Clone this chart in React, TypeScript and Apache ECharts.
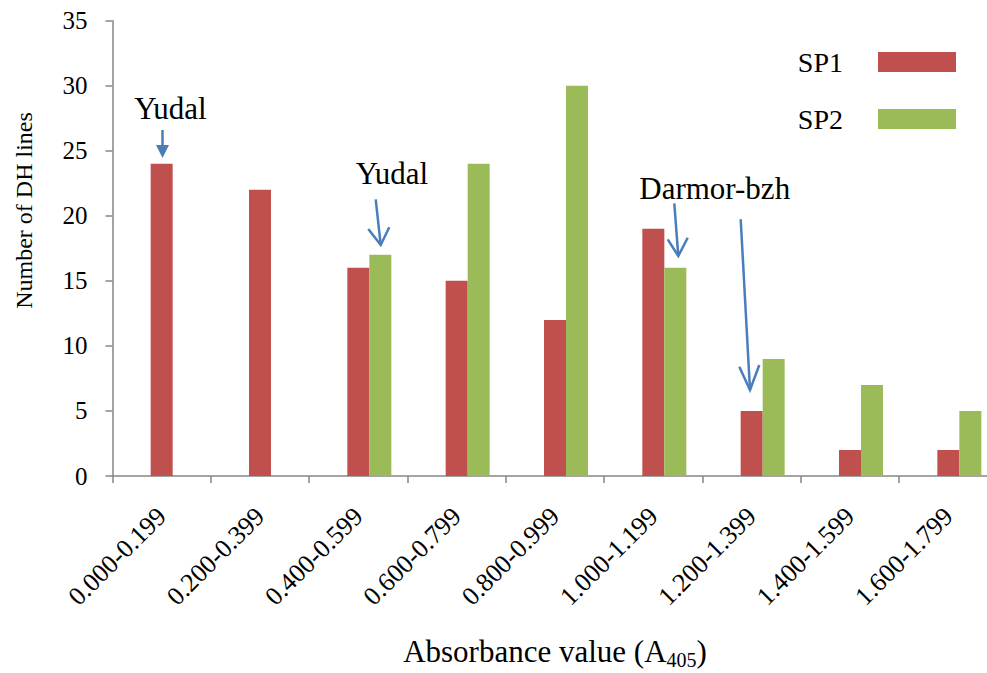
import React, { useEffect, useRef } from 'react';
import * as echarts from 'echarts';

const categories = [
  '0.000-0.199', '0.200-0.399', '0.400-0.599', '0.600-0.799', '0.800-0.999',
  '1.000-1.199', '1.200-1.399', '1.400-1.599', '1.600-1.799',
];
const sp1Values = [24, 22, 16, 15, 12, 19, 5, 2, 2];
const sp2Values = [0, 0, 17, 24, 30, 16, 9, 7, 5];
const padValues = categories.map(() => null);
const seriesNames = ['SP1', 'SP2'];
const yMin = 0;
const yMax = 35;
const yInterval = 5;
const xTitle = 'Absorbance value (A';
const xTitleSub = '405';
const yTitle = 'Number of DH lines';
const annotations = ['Yudal', 'Yudal', 'Darmor-bzh'];

const FONT = "'Liberation Serif', 'Times New Roman', serif";
const RED = '#c0504d';
const GREEN = '#9bbb59';
const AXIS = '#868686';
const ARROW = '#4a7ebb';

export default function App() {
  const ref = useRef<HTMLDivElement>(null);
  useEffect(() => {
    if (!ref.current) return;
    const chart = echarts.init(ref.current, undefined, { renderer: 'svg' });
    const arrowStyle = { stroke: ARROW, lineWidth: 2.5, fill: 'none' };
    const textStyle = (size: number) => ({
      fill: '#000', font: `${size}px ${FONT}`,
      textAlign: 'center', textVerticalAlign: 'middle', align: 'center', verticalAlign: 'middle',
    });
    chart.setOption({
      animation: false,
      backgroundColor: '#ffffff',
      grid: { left: 112.5, right: -10.5, top: 20.7, bottom: 197, containLabel: false, outerBoundsMode: 'none' },
      legend: {
        data: [
          { name: seriesNames[0] },
          { name: seriesNames[1], textStyle: { fontFamily: FONT, fontSize: 28, color: '#000', lineHeight: 30, padding: [14, 30, 0, 0] } },
        ],
        orient: 'vertical',
        align: 'right',
        right: 26,
        top: 42,
        itemWidth: 78,
        itemHeight: 20,
        itemGap: 20,
        icon: 'rect',
        selectedMode: false,
        textStyle: { fontFamily: FONT, fontSize: 28, color: '#000', lineHeight: 30, padding: [0, 30, 0, 0] },
      },
      xAxis: {
        type: 'category',
        data: categories,
        axisLine: { lineStyle: { color: AXIS, width: 1.5 } },
        axisTick: { show: true, length: 7, lineStyle: { color: AXIS, width: 1.5 } },
        axisLabel: { rotate: 45, margin: 36, fontFamily: FONT, fontSize: 26, color: '#000', interval: 0 },
        name: `{a|${xTitle}}{s|${xTitleSub}}{a|)}`,
        nameLocation: 'middle',
        nameGap: 157,
        nameTextStyle: {
          fontFamily: FONT,
          fontSize: 31,
          color: '#000',
          rich: {
            a: { fontFamily: FONT, fontSize: 31, color: '#000', lineHeight: 36 },
            s: { fontFamily: FONT, fontSize: 20, color: '#000', padding: [17, 0, 0, 0] },
          },
        },
      },
      yAxis: {
        type: 'value',
        min: yMin,
        max: yMax,
        interval: yInterval,
        splitLine: { show: false },
        axisLine: { show: true, lineStyle: { color: AXIS, width: 1.5 } },
        axisTick: { show: true, length: 7, lineStyle: { color: AXIS, width: 1.5 } },
        axisLabel: { margin: 25, fontFamily: FONT, fontSize: 25, color: '#000' },
      },
      series: [
        { name: 'pad', type: 'bar', data: padValues, barWidth: 22, barGap: '0%', silent: true },
        { name: seriesNames[0], type: 'bar', data: sp1Values, barWidth: 22, barGap: '0%', itemStyle: { color: RED } },
        { name: seriesNames[1], type: 'bar', data: sp2Values, barWidth: 22, barGap: '0%', itemStyle: { color: GREEN } },
      ],
      graphic: [
        { type: 'text', x: 24, y: 210.5, rotation: Math.PI / 2, style: { text: yTitle, ...textStyle(24) } },
        { type: 'text', x: 170.5, y: 108, style: { text: annotations[0], ...textStyle(31) } },
        { type: 'text', x: 392, y: 173.2, style: { text: annotations[1], ...textStyle(31) } },
        { type: 'text', x: 714.7, y: 188.8, style: { text: annotations[2], ...textStyle(31) } },
        // Arrow 1 (filled head)
        { type: 'line', shape: { x1: 162.5, y1: 130, x2: 162.5, y2: 146 }, style: { stroke: ARROW, lineWidth: 2.5 } },
        { type: 'polygon', shape: { points: [[156, 145], [169, 145], [162.5, 158]] }, style: { fill: ARROW } },
        // Arrow 2
        { type: 'line', shape: { x1: 375.7, y1: 199.3, x2: 380.7, y2: 245 }, style: arrowStyle },
        { type: 'polyline', shape: { points: [[368.3, 229], [380.7, 245], [389.3, 227.3]] }, style: arrowStyle },
        // Arrow 3
        { type: 'line', shape: { x1: 674.3, y1: 203.3, x2: 678.3, y2: 256 }, style: arrowStyle },
        { type: 'polyline', shape: { points: [[667.7, 239.3], [678.3, 256], [687.7, 237.7]] }, style: arrowStyle },
        // Arrow 4
        { type: 'line', shape: { x1: 740.7, y1: 219.3, x2: 750, y2: 390 }, style: arrowStyle },
        { type: 'polyline', shape: { points: [[739.3, 366.7], [750, 390], [759.3, 365]] }, style: arrowStyle },
      ],
    });
    return () => chart.dispose();
  }, []);
  return (
    <div
      ref={ref}
      style={{ position: 'fixed', left: 0, top: 0, width: 987, height: 673, background: '#fff' }}
    />
  );
}
